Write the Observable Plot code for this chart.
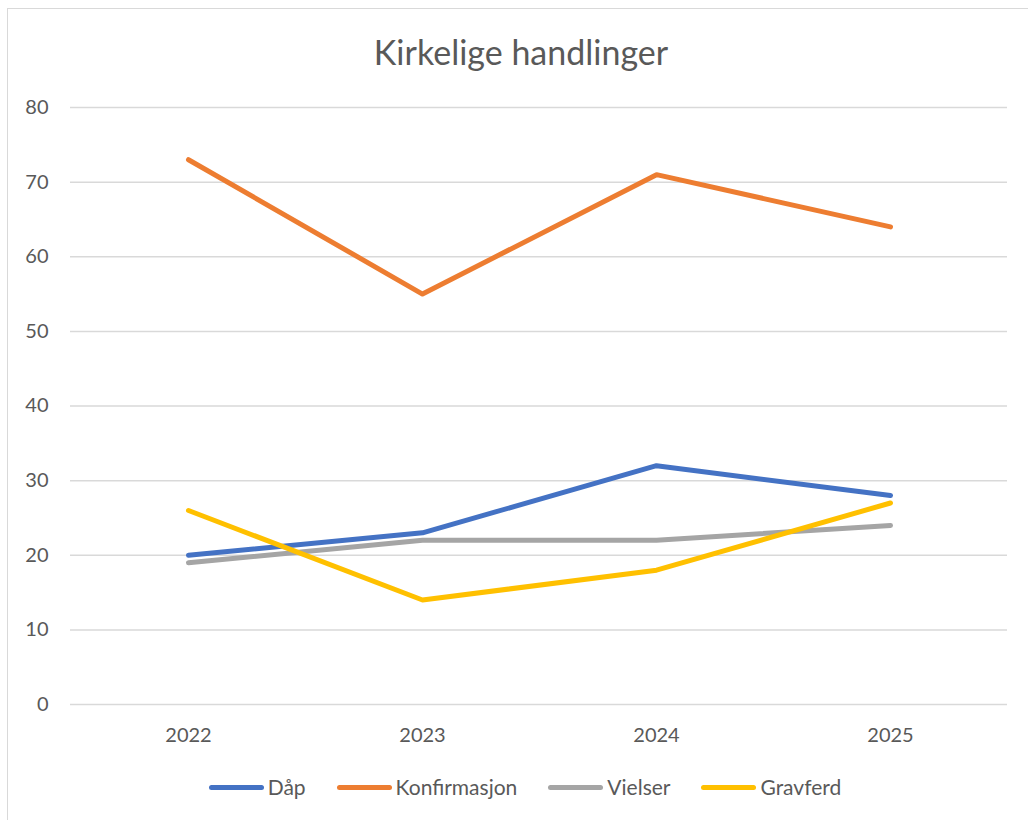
<!DOCTYPE html>
<html>
<head>
<meta charset="utf-8">
<script src="https://cdn.jsdelivr.net/npm/d3@7"></script>
<script src="https://cdn.jsdelivr.net/npm/@observablehq/plot@0.6"></script>
<style>
  html, body { margin: 0; padding: 0; background: #fff; }
  #wrap { position: relative; width: 1028px; height: 820px; overflow: hidden; font-family: Lato, "Noto Sans", sans-serif; color: #595959; }
  #frame { position: absolute; left: 7px; top: 8px; width: 1040px; height: 840px; border: 1px solid #d9d9d9; box-sizing: border-box; }
  #title { position: absolute; left: 0; width: 1042px; top: 29px; text-align: center; font-size: 34px; line-height: 46px; color: #595959; }
  #chart { position: absolute; left: 0; top: 0; }
  #legend { position: absolute; left: 0; width: 1050px; top: 773px; display: flex; justify-content: center; gap: 31px; font-size: 21px; line-height: 28px; }
  .item { display: flex; align-items: center; gap: 4px; }
  .sw { width: 55px; height: 5px; border-radius: 3px; }
</style>
</head>
<body>
<div id="wrap">
  <div id="frame"></div>
  <div id="title">Kirkelige handlinger</div>
  <div id="chart"></div>
  <div id="legend"></div>
</div>
<script>
const years = ["2022", "2023", "2024", "2025"];
const seriesNames = ["Dåp", "Konfirmasjon", "Vielser", "Gravferd"];
const seriesColors = ["#4472C4", "#ED7D31", "#A5A5A5", "#FFC000"];
const dap = [20, 23, 32, 28];
const konfirmasjon = [73, 55, 71, 64];
const vielser = [19, 22, 22, 24];
const gravferd = [26, 14, 18, 27];
const yTicks = [0, 10, 20, 30, 40, 50, 60, 70, 80];

const seriesValues = [dap, konfirmasjon, vielser, gravferd];
const data = [];
seriesNames.forEach((name, i) => {
  years.forEach((y, j) => data.push({series: name, year: y, value: seriesValues[i][j]}));
});

const chart = Plot.plot({
  width: 1028,
  height: 760,
  marginLeft: 70,
  marginRight: 21,
  marginTop: 107,
  marginBottom: 56,
  style: {fontFamily: "Lato, 'Noto Sans', sans-serif", fontSize: "20px", color: "#595959", background: "transparent"},
  x: {type: "point", domain: years, padding: 0.5, label: null, tickSize: 0, tickPadding: 23},
  y: {domain: [0, 80], ticks: yTicks, label: null, tickSize: 0, tickPadding: 22},
  color: {domain: seriesNames, range: seriesColors},
  marks: [
    Plot.ruleY(yTicks, {stroke: "#d9d9d9", strokeWidth: 1.5, strokeOpacity: 1}),
    Plot.axisX({tickSize: 0, tickPadding: 23, fill: "#595959", fontSize: 20}),
    Plot.axisY({ticks: yTicks, tickSize: 0, tickPadding: 22, fill: "#595959", fontSize: 20}),
    Plot.line(data, {x: "year", y: "value", z: "series", stroke: "series", strokeWidth: 5, strokeLinecap: "round", strokeLinejoin: "round"})
  ]
});
document.getElementById("chart").appendChild(chart);

const legend = document.getElementById("legend");
seriesNames.forEach((name, i) => {
  const item = document.createElement("div");
  item.className = "item";
  const sw = document.createElement("div");
  sw.className = "sw";
  sw.style.background = seriesColors[i];
  const t = document.createElement("span");
  t.textContent = name;
  item.appendChild(sw);
  item.appendChild(t);
  legend.appendChild(item);
});
</script>
</body>
</html>
